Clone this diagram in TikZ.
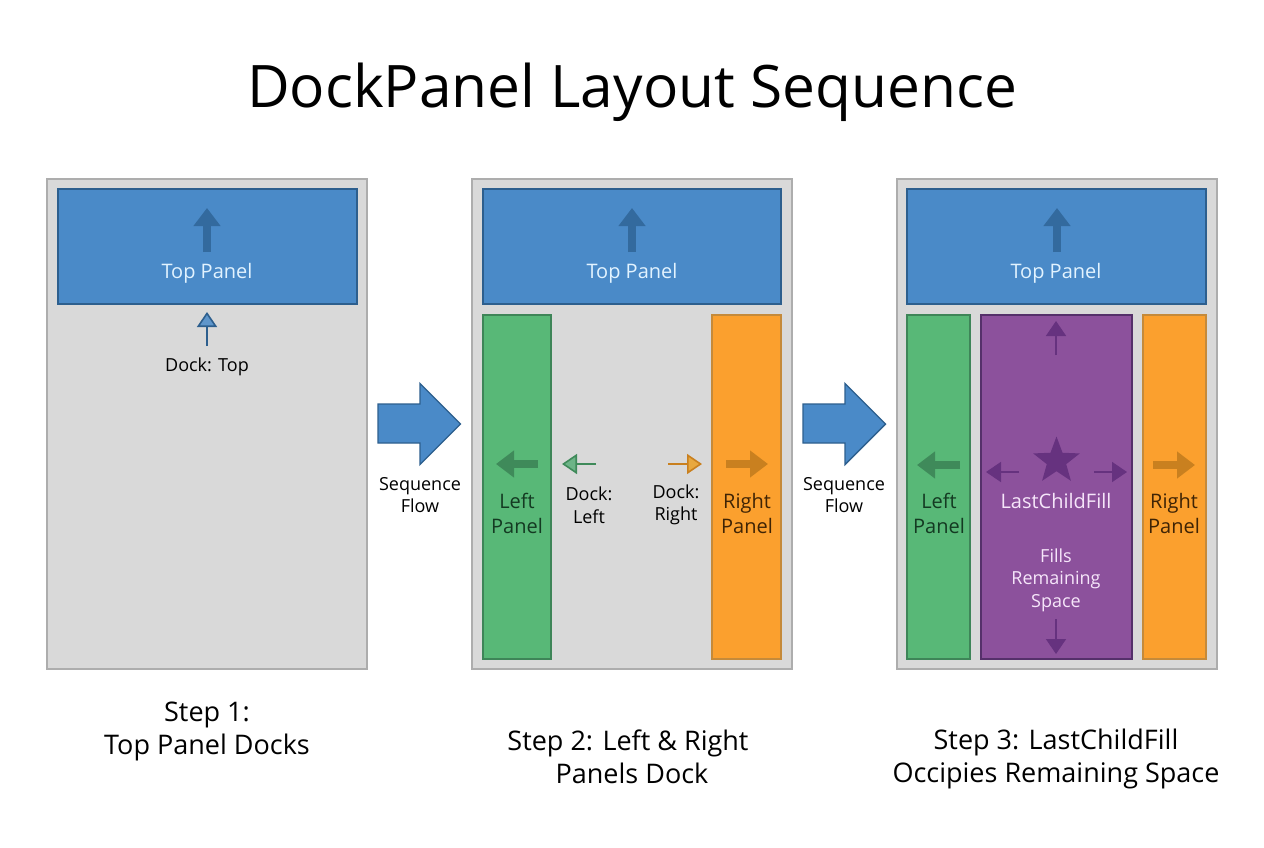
\documentclass[tikz,border=0pt]{standalone}
\usepackage{fontspec}
\setmainfont{Open Sans}
\usetikzlibrary{arrows.meta,shapes.geometric,calc}
\definecolor{shellfill}{HTML}{D9D9D9}\definecolor{shelledge}{HTML}{ADADAD}
\definecolor{bluefill}{HTML}{4A8AC8}\definecolor{blueedge}{HTML}{2D5F8E}\definecolor{bluedark}{HTML}{336A9E}\definecolor{bluelite}{HTML}{5F96CB}
\definecolor{greenfill}{HTML}{58B877}\definecolor{greenedge}{HTML}{3E8558}\definecolor{greendark}{HTML}{3F8A5A}\definecolor{greenlite}{HTML}{6DB487}
\definecolor{orangefill}{HTML}{FBA02E}\definecolor{orangeedge}{HTML}{C58A3A}\definecolor{orangedark}{HTML}{C9801F}\definecolor{orangelite}{HTML}{E8A83F}
\definecolor{purplefill}{HTML}{8C519C}\definecolor{purpleedge}{HTML}{55306A}\definecolor{purpledark}{HTML}{66327F}
\definecolor{toptext}{HTML}{E2F3FF}\definecolor{filltext}{HTML}{F6E6FA}
\definecolor{greentext}{HTML}{143A22}\definecolor{orangetext}{HTML}{3F2405}
\tikzset{
 x=1pt,y=-1pt,
 box/.style={rectangle,inner sep=0pt,outer sep=0pt,line width=1.4pt},
 shell/.style={box,fill=shellfill,draw=shelledge,line width=2pt},
 toppanel/.style={box,fill=bluefill,draw=blueedge},
 leftpanel/.style={box,fill=greenfill,draw=greenedge},
 rightpanel/.style={box,fill=orangefill,draw=orangeedge},
 fillpanel/.style={box,fill=purplefill,draw=purpleedge},
 label/.style={inner sep=0pt,align=center,font=\fontsize{18}{22.5}\selectfont,text=black},
 panellabel/.style={inner sep=0pt,align=center,font=\fontsize{20}{24.5}\selectfont},
 caption/.style={inner sep=0pt,align=center,font=\fontsize{27}{33}\selectfont,text=black},
 block/.style={line width=8pt,-{Triangle[length=18pt,width=26pt]}},
 slim/.style={line width=1.6pt,-{Triangle[length=15pt,width=20pt,fill=#1]}},
 flowarrow/.style={fill=bluefill,draw=blueedge,line width=1.4pt,line join=miter},
}
\newcommand{\flowshape}[1]{\draw[flowarrow] (#1,404)--(#1+42,404)--(#1+42,383.5)--(#1+82.5,424)--(#1+42,464.5)--(#1+42,443)--(#1,443)--cycle;}
\newcommand{\shellbox}[2]{\node[shell,minimum width=320pt,minimum height=490pt] (#2) at (#1,424) {};}
\newcommand{\panelbox}[6]{\node[#1,minimum width=#4-#3,minimum height=#6-#5] (#2) at ({(#3+#4)/2},{(#5+#6)/2}) {};}
\begin{document}
\begin{tikzpicture}
\useasboundingbox (0,0) rectangle (1264,848);
\fill[white] (0,0) rectangle (1264,848);
\node[inner sep=0pt,font=\fontsize{58.6}{70}\selectfont] (title) at (632,92) {DockPanel Layout Sequence};
% shells
\shellbox{207}{shellA}\shellbox{632}{shellB}\shellbox{1057}{shellC}
% step 1
\panelbox{toppanel}{topA}{58}{357}{189}{304}
\coordinate (a1) at (207,252);\coordinate (a2) at (207,208);
\draw[block,bluedark] (a1)--(a2);
\node[panellabel,text=toptext] (topAt) at (207,270) [yshift=-3pt] {Top Panel};
\coordinate (a3) at (207,346);\coordinate (a4) at (207,312);
\draw[slim=bluelite,blueedge] (a3)--(a4);
\node[label] (dockA) at (207,366.5) {Dock: Top};
% step 2
\panelbox{toppanel}{topB}{483}{781}{189}{304}
\coordinate (b1) at (632,252);\coordinate (b2) at (632,208);
\draw[block,bluedark] (b1)--(b2);
\node[panellabel,text=toptext] (topBt) at (632,270) [yshift=-3pt] {Top Panel};
\panelbox{leftpanel}{leftB}{483}{551}{315}{659}
\panelbox{rightpanel}{rightB}{712}{781}{315}{659}
\coordinate (b3) at (538,464);\coordinate (b4) at (496,464);
\draw[block,greendark] (b3)--(b4);
\coordinate (b5) at (726,464);\coordinate (b6) at (768,464);
\draw[block,orangedark] (b5)--(b6);
\coordinate (b7) at (596,464);\coordinate (b8) at (562,464);
\draw[slim=greenlite,greendark] (b7)--(b8);
\coordinate (b9) at (668,464);\coordinate (b10) at (702,464);
\draw[slim=orangelite,orangedark] (b9)--(b10);
\node[panellabel,text=greentext] (leftBt) at (517,513.5) {Left\\Panel};
\node[panellabel,text=orangetext] (rightBt) at (747,513.5) {Right\\Panel};
\node[label] (dockL) at (589,505) {Dock:\\Left};
\node[label] (dockR) at (676,505) {Dock:\\Right};
% step 3
\panelbox{toppanel}{topC}{907}{1206}{189}{304}
\coordinate (c1) at (1057,252);\coordinate (c2) at (1057,208);
\draw[block,bluedark] (c1)--(c2);
\node[panellabel,text=toptext] (topCt) at (1056,270) [yshift=-3pt] {Top Panel};
\panelbox{leftpanel}{leftC}{907}{970}{315}{659}
\panelbox{fillpanel}{fillC}{981}{1132}{315}{659}
\panelbox{rightpanel}{rightC}{1143}{1206}{315}{659}
\coordinate (c3) at (960,465);\coordinate (c4) at (917,465);
\draw[block,greendark] (c3)--(c4);
\coordinate (c5) at (1153,465);\coordinate (c6) at (1195,465);
\draw[block,orangedark] (c5)--(c6);
\node[panellabel,text=greentext] (leftCt) at (939,513.5) {Left\\Panel};
\node[panellabel,text=orangetext] (rightCt) at (1174,513.5) {Right\\Panel};
\node[star,star points=5,star point ratio=2.4,fill=purpledark,inner sep=0pt,minimum size=49pt] (starC) at (1056.5,461) {};
\coordinate (c7) at (1056,355);\coordinate (c8) at (1056,321);
\draw[slim=purpledark,purpledark] (c7)--(c8);
\coordinate (c9) at (1056,619);\coordinate (c10) at (1056,654);
\draw[slim=purpledark,purpledark] (c9)--(c10);
\coordinate (c11) at (1019,472);\coordinate (c12) at (986,472);
\draw[slim=purpledark,purpledark] (c11)--(c12);
\coordinate (c13) at (1094,472);\coordinate (c14) at (1127,472);
\draw[slim=purpledark,purpledark] (c13)--(c14);
\node[panellabel,text=filltext] (lcf) at (1056,501) {LastChildFill};
\node[label,text=filltext] (fills) at (1056,580) {Fills\\Remaining\\Space};
% flow
\flowshape{378}\flowshape{803}
\node[label] (seqA) at (420,495) {Sequence\\Flow};
\node[label] (seqB) at (844,495) {Sequence\\Flow};
% captions
\node[caption] (capA) at (207,731) {Step 1:\\Top Panel Docks};
\node[caption] (capB) at (628,756.5) {Step 2: Left \& Right\\\hspace*{8pt}Panels Dock};
\node[caption] (capC) at (1056,759) {Step 3: LastChildFill\\Occipies Remaining Space};
\end{tikzpicture}
\end{document}
